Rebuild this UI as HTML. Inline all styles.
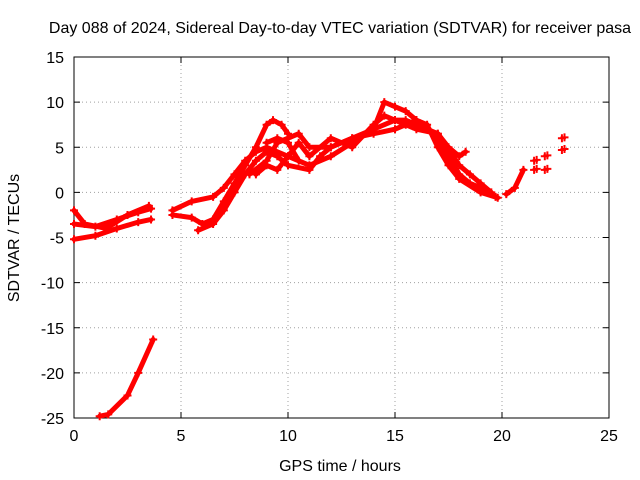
<!DOCTYPE html>
<html><head><meta charset="utf-8"><style>
body{margin:0;background:#fff;}
svg{display:block;font-family:"Liberation Sans",sans-serif;}
</style></head><body>
<svg id="chart" width="640" height="480" viewBox="0 0 640 480">
<rect width="640" height="480" fill="#fff"/>
<text x="340" y="33" font-size="16" text-anchor="middle">Day 088 of 2024, Sidereal Day-to-day VTEC variation (SDTVAR) for receiver pasa</text>
<g id="grid"></g><g id="axes"></g><g id="series"></g>
<text x="340" y="471" font-size="16" text-anchor="middle">GPS time / hours</text>
<text transform="translate(19,238) rotate(-90)" font-size="16" text-anchor="middle">SDTVAR / TECUs</text>
</svg>
<script>
const xTicks=[0,5,10,15,20,25];
const yTicks=[15,10,5,0,-5,-10,-15,-20,-25];
const trackA=[[0,-5.2],[1,-4.8],[2,-4],[3,-3.3],[3.6,-3]];
const trackB=[[0,-3.5],[1,-3.8],[2,-3],[3,-2.2],[3.6,-1.8]];
const trackC=[[0,-2],[0.5,-3.5],[1.5,-4],[2.5,-2.5],[3.5,-1.5]];
const trackLow=[[1.2,-24.8],[1.6,-24.6],[2.5,-22.5],[3,-20],[3.7,-16.3]];
const trackD=[[4.6,-2.5],[5.5,-2.8],[6,-3.5],[6.5,-3],[7,-1],[7.5,1],[8,3],[8.5,5],[9,7.5],[9.3,8],[9.7,7.5],[10,6.5]];
const trackE=[[4.6,-2],[5.5,-1],[6.5,-0.5],[7,0.5],[7.5,2],[8,3.5],[8.5,4.5],[9,5],[10,4],[11,3],[12,4],[13,5.5],[14,7],[14.5,10],[15,9.5],[15.5,9],[16,8],[17,6],[17.5,4],[18,2],[18.5,1],[19,0.5],[19.7,-0.5]];
const trackF=[[5.8,-4.2],[6.5,-3.5],[7,-2],[7.5,0],[8,2],[8.5,3.5],[9,4.5],[9.5,4],[10,3],[11,2.5],[11.5,4],[12,5],[13,6],[14,6.5],[15,7],[15.5,7.5],[16,8],[16.5,7.5],[17,5],[17.5,3],[18,1.5],[19,0],[19.8,-0.6]];
const trackG=[[8.2,2],[9,3.5],[9.5,5.5],[10,6],[10.5,6.5],[11,5],[12,5],[13,6],[14,7],[15,8],[15.5,8],[16,7.5],[16.5,7],[17,6.5],[17.5,5],[18,4],[18.3,4.5]];
const trackH=[[8.5,2],[9,3],[9.5,2.5],[10,4],[10.5,5.5],[11,4],[12,6],[13,5],[14,7.5],[14.5,8.5],[15,8],[16,7],[17,6.5],[18,3],[18.5,2],[19,1],[19.5,0]];
const trackI=[[9,5.5],[9.5,6],[10,5.5],[10.5,3.5]];
const trackJ=[[20.2,-0.2],[20.6,0.5],[21,2.5]];
const lonePoints=[[21.5,3.5],[22,4],[21.5,2.5],[22,2.5],[22.8,6],[22.8,4.7]];
const tracks=[trackA,trackB,trackC,trackLow,trackD,trackE,trackF,trackG,trackH,trackI,trackJ];
const X0=74,X1=609,Y0=418,Y1=57;
const sx=v=>X0+(v-0)/25*(X1-X0);
const sy=v=>Y0-(v+25)/40*(Y0-Y1);
const NS='http://www.w3.org/2000/svg';
function mk(t,a,p){const e=document.createElementNS(NS,t);for(const k in a)e.setAttribute(k,a[k]);p.appendChild(e);return e;}
const grid=document.getElementById('grid'),axes=document.getElementById('axes'),ser=document.getElementById('series');
xTicks.forEach(t=>{const x=sx(t);
 if(t>0&&t<25){const l=mk('line',{x1:x,y1:Y1,x2:x,y2:Y0,stroke:'#a0a0a0','stroke-dasharray':'1,3'},grid);
 }
 mk('line',{x1:x,y1:Y0,x2:x,y2:Y0-6,stroke:'#000'},axes);mk('line',{x1:x,y1:Y1,x2:x,y2:Y1+6,stroke:'#000'},axes);
 const tx=mk('text',{x:x,y:Y0+23,'font-size':16,'text-anchor':'middle'},axes);tx.textContent=t;
 });
yTicks.forEach(t=>{const y=sy(t);
 if(t>-25&&t<15){const l=mk('line',{x1:X0,y1:y,x2:X1,y2:y,stroke:'#a0a0a0','stroke-dasharray':'1,3'},grid);
 }
 mk('line',{x1:X0,y1:y,x2:X0+6,y2:y,stroke:'#000'},axes);mk('line',{x1:X1,y1:y,x2:X1-6,y2:y,stroke:'#000'},axes);
 const tx=mk('text',{x:X0-10,y:y+6,'font-size':16,'text-anchor':'end'},axes);tx.textContent=t;
 });
const fr=mk('rect',{x:X0,y:Y1,width:X1-X0,height:Y0-Y1,fill:'none',stroke:'#000'},axes);

function plus(p,g){const x=sx(p[0]),y=sy(p[1]);mk('path',{d:`M${x-4},${y}h8M${x},${y-4}v8`,stroke:'#f00','stroke-width':2},g);}
tracks.forEach(tr=>{const g=mk('g',{},ser);
 
 mk('polyline',{points:tr.map(p=>sx(p[0])+','+sy(p[1])).join(' '),fill:'none',stroke:'#f00','stroke-width':5,'stroke-linejoin':'round','stroke-linecap':'round'},g);
 tr.forEach(p=>plus(p,g));});
const lg=mk('g',{},ser);

lonePoints.forEach(p=>{plus(p,lg);plus([p[0]+0.12,p[1]+0.1],lg);});
</script>
</body></html>
